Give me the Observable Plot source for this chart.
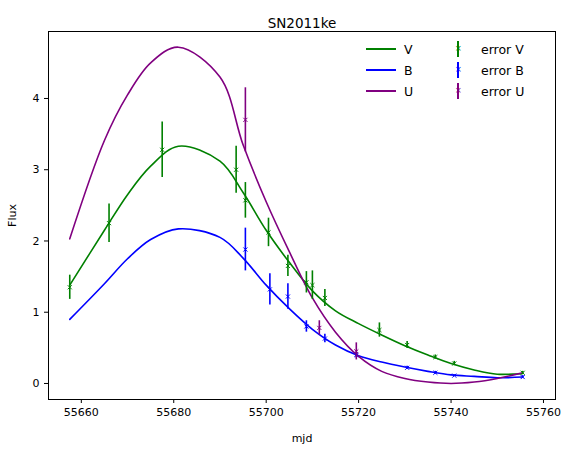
<!DOCTYPE html>
<html><head><meta charset="utf-8">
<script src="https://cdn.jsdelivr.net/npm/d3@7"></script>
<script src="https://cdn.jsdelivr.net/npm/@observablehq/plot@0.6"></script>
<style>
body{margin:0;background:#fff;font-family:"DejaVu Sans",sans-serif}
#wrap{position:relative;width:574px;height:453px}
.leg{position:absolute;font-size:12.5px;display:flex;align-items:center;height:20px}
.leg .ln{width:30px;height:0;border-top:2px solid;margin-right:8px}
.leg .eb{width:30px;height:16px;position:relative;margin-right:8px}
.leg .eb i{position:absolute;left:14px;top:0;width:2px;height:16px}
.leg .eb b{position:absolute;left:12px;top:5px;font-size:8px;font-weight:normal;line-height:6px}
</style></head><body>
<div id="wrap"><div id="plot"></div></div>
<script>
// fitted curves
const curveX = [55657.5,55665,55670,55675,55681,55690,55695,55700,55705,55710,55715,55720,55725,55730,55735,55740,55745,55750,55755.5];
const curveV = [1.38,2.15,2.65,3.05,3.33,3.12,2.68,2.15,1.7,1.3,1.02,0.84,0.68,0.53,0.4,0.28,0.19,0.13,0.14];
const curveB = [0.9,1.4,1.75,2.02,2.17,2.05,1.76,1.38,1.05,0.76,0.54,0.39,0.3,0.23,0.17,0.12,0.1,0.08,0.09];
const curveU = [2.03,3.41,4.05,4.5,4.72,4.3,3.35,2.55,1.85,1.2,0.72,0.38,0.17,0.07,0.02,0.0,0.02,0.07,0.15];

// observations
const obsVx = [55657.5,55666,55677.5,55693.5,55695.5,55700.5,55704.7,55708.7,55710,55712.7,55724.5,55730.5,55736.6,55740.7,55755.5];
const obsVy = [1.35,2.25,3.28,3.0,2.57,2.12,1.65,1.42,1.38,1.2,0.75,0.54,0.37,0.28,0.15];
const obsVe = [0.17,0.27,0.39,0.33,0.25,0.2,0.15,0.15,0.2,0.12,0.1,0.05,0.03,0.03,0.02];
const obsBx = [55695.5,55700.8,55704.7,55708.7,55712.7,55719.5,55730.5,55736.6,55740.7,55755.5];
const obsBy = [1.88,1.32,1.22,0.8,0.63,0.4,0.22,0.15,0.11,0.09];
const obsBe = [0.3,0.22,0.18,0.08,0.06,0.04,0.02,0.02,0.01,0.02];
const obsUx = [55695.5,55711.5,55719.5];
const obsUy = [3.7,0.78,0.45];
const obsUe = [0.45,0.1,0.12];

const bands = [
  {name:"V", color:"green", cy:curveV, ox:obsVx, oy:obsVy, oe:obsVe},
  {name:"B", color:"blue", cy:curveB, ox:obsBx, oy:obsBy, oe:obsBe},
  {name:"U", color:"purple", cy:curveU, ox:obsUx, oy:obsUy, oe:obsUe}
];

const marks = [Plot.frame({stroke:"black"})];
for (const b of bands) {
  const c = curveX.map((x,i) => ({x, y:b.cy[i]}));
  marks.push(Plot.line(c, {x:"x", y:"y", stroke:b.color, strokeWidth:1.6, curve:"catmull-rom"}));
}
for (const b of bands) {
  const o = b.ox.map((x,i) => ({x, y:b.oy[i], e:b.oe[i]}));
  marks.push(Plot.ruleX(o, {x:"x", y1:d=>d.y-d.e, y2:d=>d.y+d.e, stroke:b.color, strokeWidth:1.6}));
  marks.push(Plot.dot(o, {x:"x", y:"y", symbol:"times", r:2, stroke:b.color, strokeWidth:1}));
}
marks.push(Plot.text(["SN2011ke"], {frameAnchor:"top", dy:-13, fontSize:13.5, fill:"black"}));

const plot = Plot.plot({
  width:574, height:453,
  marginLeft:48, marginRight:19, marginTop:31, marginBottom:54,
  style:{fontFamily:"DejaVu Sans, sans-serif", fontSize:"11px", color:"black"},
  x:{domain:[55652.9,55762.6], ticks:[55660,55680,55700,55720,55740,55760], tickFormat:d=>String(d), label:"mjd", labelArrow:false, labelAnchor:"center", labelOffset:42, tickSize:4},
  y:{domain:[-0.225,4.94], ticks:[0,1,2,3,4], tickFormat:d=>String(d), label:"Flux", labelArrow:false, labelAnchor:"center", labelOffset:40, tickSize:4},
  marks
});
document.getElementById("plot").appendChild(plot);

// legend
const wrap = document.getElementById("wrap");
bands.forEach((b,i) => {
  const top = 39 + i*21;
  const l = document.createElement("div");
  l.className = "leg"; l.style.left = "366px"; l.style.top = top+"px";
  l.innerHTML = `<span class="ln" style="border-color:${b.color}"></span>${b.name}`;
  wrap.appendChild(l);
  const e = document.createElement("div");
  e.className = "leg"; e.style.left = "443px"; e.style.top = top+"px";
  e.innerHTML = `<span class="eb"><i style="background:${b.color}"></i><b style="color:${b.color}">×</b></span>error ${b.name}`;
  wrap.appendChild(e);
});
</script>
</body></html>
